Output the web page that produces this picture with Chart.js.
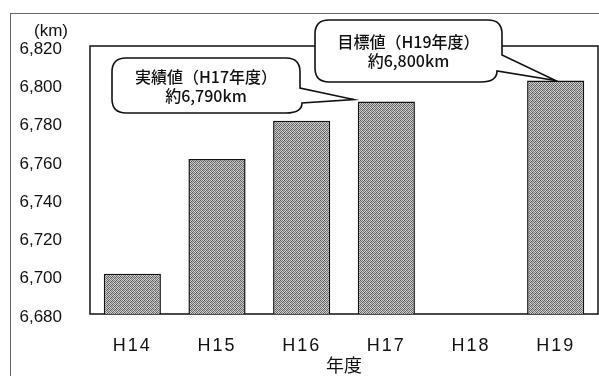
<!DOCTYPE html>
<html>
<head>
<meta charset="utf-8">
<script src="https://cdn.jsdelivr.net/npm/chart.js@4"></script>
<style>
  html, body { margin: 0; padding: 0; background: #fff; }
  #wrap { position: relative; width: 599px; height: 376px; overflow: hidden; }
  #frame { position: absolute; left: 10px; top: 13px; width: 700px; height: 500px;
           border-left: 1px solid #666; border-top: 1px solid #666; }
  canvas { position: absolute; left: 0; top: 0; }
</style>
</head>
<body>
<div id="wrap">
  <div id="frame"></div>
  <canvas id="chart" width="599" height="376"></canvas>
</div>
<script>
// data
const years = ['H14', 'H15', 'H16', 'H17', 'H18', 'H19'];
const lengthKm = [6701, 6761, 6781, 6791, null, 6802];
const yMin = 6680;
const yMax = 6820;
const yStep = 20;
const unitLabel = '(km)';
const xTitle = '年度';
const actualNote = ['実績値（H17年度）', '約6,790km'];
const targetNote = ['目標値（H19年度）', '約6,800km'];

const jpFont = '"Noto Sans CJK JP", "Liberation Sans", sans-serif';
const latinFont = '"Liberation Sans", Arial, sans-serif';

// halftone-ish fill for the bars
function makeDither() {
  const c = document.createElement('canvas');
  c.width = 4; c.height = 4;
  const g = c.getContext('2d');
  const shades = ['#5a5a5a', '#c8c8c8', '#7a7a7a', '#d4d4d4',
                  '#c2c2c2', '#666666', '#cccccc', '#555555',
                  '#7e7e7e', '#d6d6d6', '#606060', '#bebebe',
                  '#cacaca', '#646464', '#d8d8d8', '#727272'];
  shades.forEach((s, i) => { g.fillStyle = s; g.fillRect(i % 4, Math.floor(i / 4), 1, 1); });
  return g.createPattern(c, 'repeat');
}

// x labels in the scan are widely spaced
class SpacedCategory extends Chart.CategoryScale {
  drawLabels(area) {
    this.ctx.save();
    this.ctx.letterSpacing = '2px';
    super.drawLabels(area);
    this.ctx.restore();
  }
}
SpacedCategory.id = 'spacedCategory';
SpacedCategory.defaults = Chart.CategoryScale.defaults;
Chart.register(SpacedCategory);

function callout(ctx, box, tip, lines) {
  const { l, t, r, b, ya, lx, ly } = box;
  const R = 14;
  ctx.save();
  ctx.beginPath();
  ctx.moveTo(l + R, t);
  ctx.lineTo(r - R, t);
  ctx.quadraticCurveTo(r, t, r, t + R);
  ctx.lineTo(r, ya);
  ctx.lineTo(tip.x, tip.y);
  ctx.lineTo(lx, ly);
  ctx.quadraticCurveTo(lx, b, lx - 16, b);
  ctx.lineTo(l + R, b);
  ctx.quadraticCurveTo(l, b, l, b - R);
  ctx.lineTo(l, t + R);
  ctx.quadraticCurveTo(l, t, l + R, t);
  ctx.closePath();
  ctx.fillStyle = '#fff';
  ctx.fill();
  ctx.lineWidth = 1.6;
  ctx.strokeStyle = '#111';
  ctx.stroke();
  ctx.fillStyle = '#111';
  ctx.font = '500 16px ' + jpFont;
  ctx.textAlign = 'center';
  ctx.textBaseline = 'middle';
  const cx = (l + r) / 2;
  const cy = (t + b) / 2;
  ctx.fillText(lines[0], cx, cy - 9);
  ctx.fillText(lines[1], cx, cy + 10);
  ctx.restore();
}

const decor = {
  id: 'decor',
  beforeDatasetsDraw(chart) {
    const { ctx, chartArea: a } = chart;
    ctx.save();
    ctx.strokeStyle = '#111';
    ctx.lineWidth = 1.5;
    ctx.strokeRect(a.left, a.top, a.right - a.left, a.bottom - a.top);
    ctx.restore();
  },
  afterDraw(chart) {
    const { ctx } = chart;
    const xs = chart.scales.x, ys = chart.scales.y;
    ctx.save();
    ctx.fillStyle = '#111';
    ctx.font = '17px ' + latinFont;
    ctx.textAlign = 'center';
    ctx.textBaseline = 'middle';
    ctx.fillText(unitLabel, 51, 31);
    ctx.restore();

    const meta = chart.getDatasetMeta(0);
    const h17 = meta.data[3], h19 = meta.data[5];
    callout(ctx, { l: 112, t: 58, r: 300, b: 113, ya: 88, lx: 302, ly: 103 },
      { x: h17.x - h17.width / 2 - 4, y: ys.getPixelForValue(lengthKm[3]) - 2 }, actualNote);
    callout(ctx, { l: 315, t: 20, r: 502, b: 82, ya: 55, lx: 497, ly: 71 },
      { x: xs.getPixelForValue(5), y: h19.y }, targetNote);
  }
};

const ctx = document.getElementById('chart').getContext('2d');
new Chart(ctx, {
  type: 'bar',
  data: {
    labels: years,
    datasets: [{
      data: lengthKm,
      backgroundColor: makeDither(),
      borderColor: '#111',
      borderWidth: 1.5,
      barPercentage: 0.675,
      categoryPercentage: 1
    }]
  },
  options: {
    responsive: false,
    animation: false,
    events: [],
    layout: { padding: { left: 0, top: 46, right: 1, bottom: 0 } },
    plugins: { legend: { display: false }, tooltip: { enabled: false } },
    scales: {
      x: {
        type: 'spacedCategory',
        grid: { display: false, drawTicks: false },
        border: { display: false },
        ticks: { color: '#111', padding: 21, font: { family: latinFont, size: 18 } },
        title: { display: true, text: xTitle, color: '#111', padding: { top: 0, bottom: 0 },
                 font: { family: jpFont, size: 18 } },
        afterFit: s => { s.height = 62; }
      },
      y: {
        min: yMin,
        max: yMax,
        grid: { display: false, drawTicks: false },
        border: { display: false },
        ticks: {
          stepSize: yStep,
          color: '#111',
          padding: 28,
          labelOffset: 3,
          font: { family: latinFont, size: 17 },
          callback: v => v.toLocaleString('en-US')
        },
        afterFit: s => { s.width = 90; }
      }
    }
  },
  plugins: [decor]
});
</script>
</body>
</html>
